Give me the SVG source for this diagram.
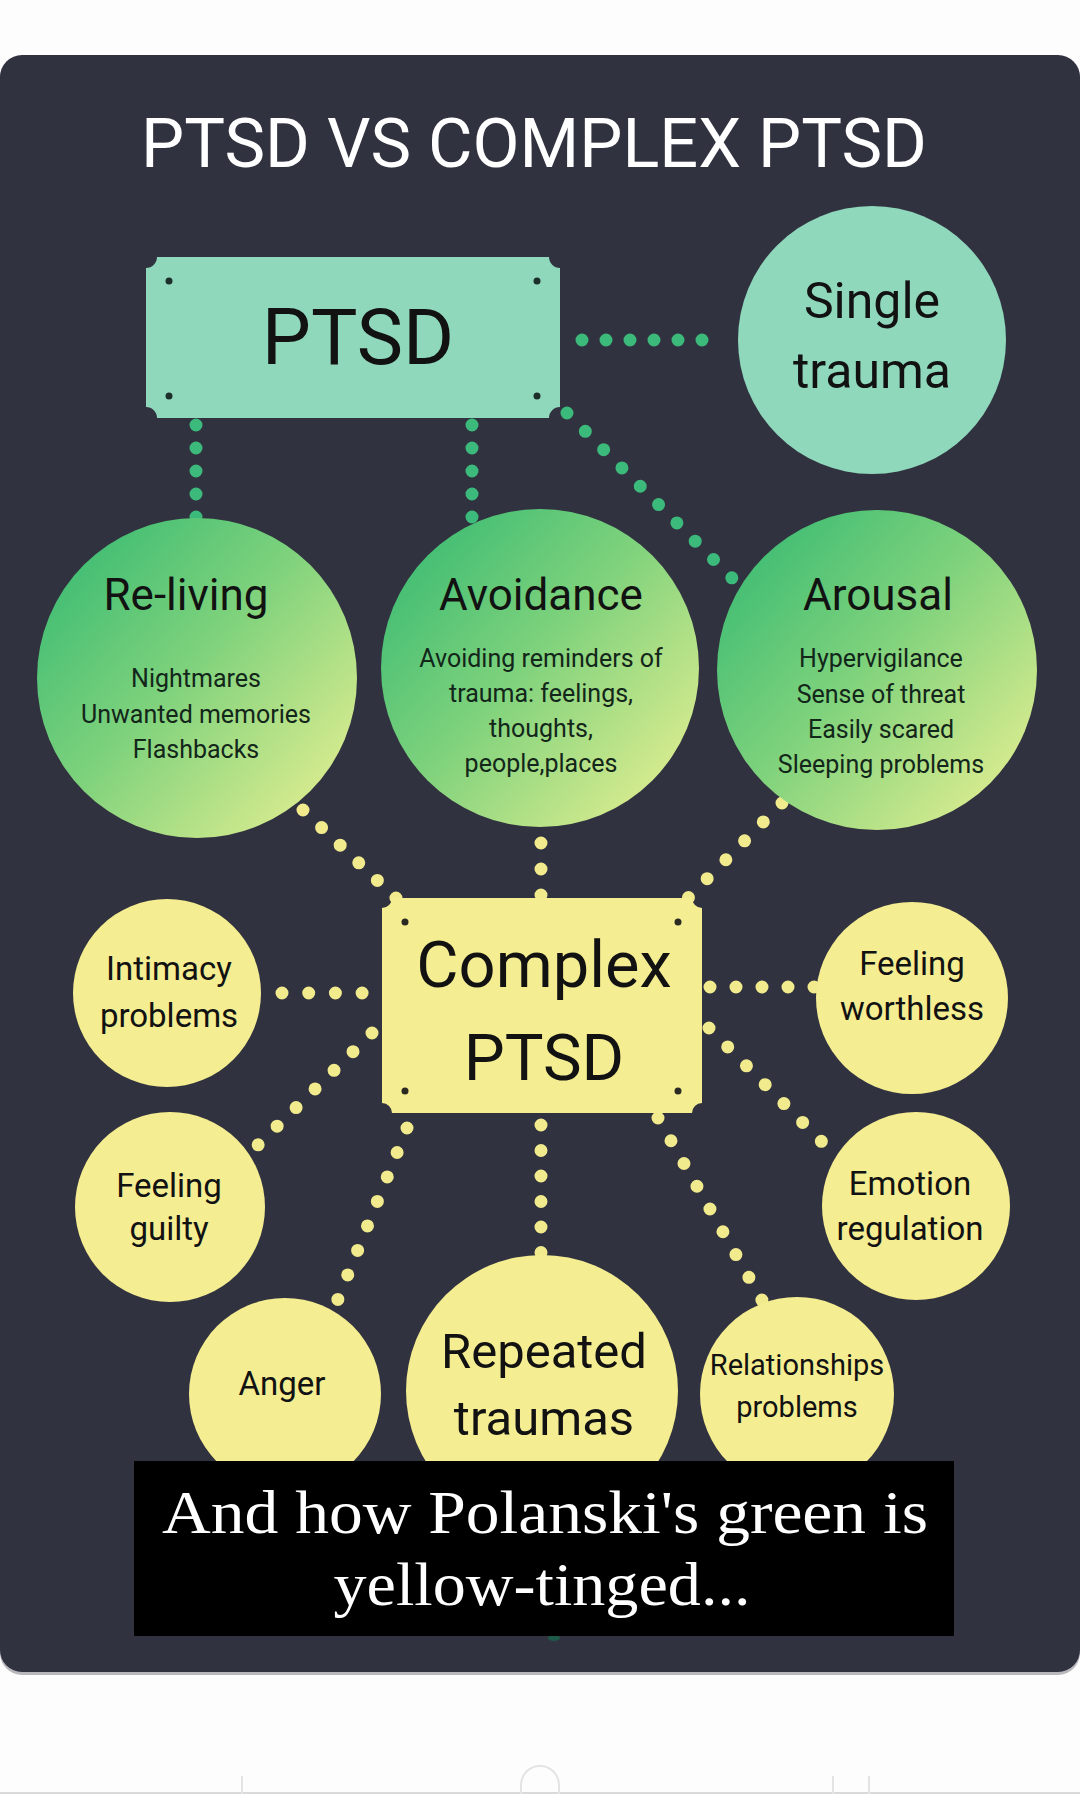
<svg xmlns="http://www.w3.org/2000/svg" width="1080" height="1794" viewBox="0 0 1080 1794">
  <defs>
    <linearGradient id="gGreen" x1="0.08" y1="0.1" x2="0.95" y2="0.9">
      <stop offset="0" stop-color="#3dbc73"/>
      <stop offset="0.45" stop-color="#7ed27c"/>
      <stop offset="1" stop-color="#e2ee91"/>
    </linearGradient>
    <style>
      .lbl { font-family: Roboto, "Liberation Sans", sans-serif; fill: #121212; text-anchor: middle; }
      .small { font-family: Roboto, "Liberation Sans", sans-serif; fill: #13261a; text-anchor: middle; font-size: 25px; }
      .gdot { fill: none; stroke: #3cba7b; stroke-width: 13; stroke-linecap: round; }
      .ydot { fill: none; stroke: #f2eb8d; stroke-width: 13; stroke-linecap: round; }
      .mint { fill: #8fd8bb; }
      .yel { fill: #f4ed91; }
      .green { fill: url(#gGreen); }
      .rivet { fill: #1d2f2a; }
      .rivetY { fill: #2a2a22; }
      .faint { fill: none; stroke: #e4e4e6; stroke-width: 2; }
    </style>
  </defs>

  <!-- page background -->
  <rect x="0" y="0" width="1080" height="1794" fill="#fdfdfd"/>
  <rect x="0" y="57" width="1080" height="1618" rx="22" fill="#8a8b92" opacity="0.6"/>
  <rect x="0" y="55" width="1080" height="1617" rx="22" fill="#31323f"/>

  <!-- bottom UI remnants -->
  <g id="bottom-ui">
    <line x1="0" y1="1793" x2="1080" y2="1793" stroke="#d9d9db" stroke-width="2"/>
    <path class="faint" d="M 521 1794 V 1785 A 19 19 0 0 1 559 1785 V 1794"/>
    <line class="faint" x1="242" y1="1776" x2="242" y2="1794"/>
    <line class="faint" x1="833" y1="1776" x2="833" y2="1794"/>
    <line class="faint" x1="869" y1="1776" x2="869" y2="1794"/>
  </g>

  <g id="title">
    <text x="534" y="167" font-family="Roboto, 'Liberation Sans', sans-serif" font-size="68" fill="#ffffff" text-anchor="middle" textLength="786" lengthAdjust="spacingAndGlyphs">PTSD VS COMPLEX PTSD</text>
  </g>

  <!-- connectors -->
  <g id="connectors">
    <path class="gdot" stroke-dasharray="0 24" d="M 582 340 L 703 340"/>
    <path class="gdot" stroke-dasharray="0 23" d="M 196 425 L 196 521"/>
    <path class="gdot" stroke-dasharray="0 23" d="M 472 425 L 472 526"/>
    <path class="gdot" stroke-dasharray="0 25.9" d="M 567 413 L 741 587"/>

    <path class="ydot" stroke-dasharray="0 25.6" d="M 303 810 L 397 899"/>
    <path class="ydot" stroke-dasharray="0 26" d="M 541 843 L 541 897"/>
    <path class="ydot" stroke-dasharray="0 26.6" d="M 782 803 L 688 898"/>
    <path class="ydot" stroke-dasharray="0 26.7" d="M 282 993 L 364 993"/>
    <path class="ydot" stroke-dasharray="0 26" d="M 710 987 L 815 987"/>
    <path class="ydot" stroke-dasharray="0 26.6" d="M 372 1033 L 257 1146"/>
    <path class="ydot" stroke-dasharray="0 26.6" d="M 709 1028 L 822 1142"/>
    <path class="ydot" stroke-dasharray="0 26.4" d="M 407 1128 L 336 1304"/>
    <path class="ydot" stroke-dasharray="0 25.5" d="M 541 1125 L 541 1254"/>
    <path class="ydot" stroke-dasharray="0 26.2" d="M 658 1118 L 763 1302"/>
  </g>

  <!-- PTSD box -->
  <g id="node-ptsd">
    <path class="mint" d="M 157 257 H 549 A 11 11 0 0 0 560 268 V 407 A 11 11 0 0 0 549 418 H 157 A 11 11 0 0 0 146 407 V 268 A 11 11 0 0 0 157 257 Z"/>
    <circle class="rivet" cx="169" cy="281" r="3.5"/>
    <circle class="rivet" cx="537" cy="281" r="3.5"/>
    <circle class="rivet" cx="169" cy="396" r="3.5"/>
    <circle class="rivet" cx="537" cy="396" r="3.5"/>
    <text class="lbl" x="358" y="364" font-size="78">PTSD</text>
  </g>

  <g id="node-single">
    <circle class="mint" cx="872" cy="340" r="134"/>
    <text class="lbl" x="872" y="318" font-size="50">Single</text>
    <text class="lbl" x="872" y="388" font-size="50">trauma</text>
  </g>

  <g id="node-reliving">
    <circle class="green" cx="197" cy="678" r="160"/>
    <text class="lbl" x="186" y="610" font-size="44">Re-living</text>
    <text class="small" x="196" y="687">Nightmares</text>
    <text class="small" x="196" y="723">Unwanted memories</text>
    <text class="small" x="196" y="758">Flashbacks</text>
  </g>

  <g id="node-avoidance">
    <circle class="green" cx="540" cy="668" r="159"/>
    <text class="lbl" x="541" y="610" font-size="44">Avoidance</text>
    <text class="small" x="541" y="667">Avoiding reminders of</text>
    <text class="small" x="541" y="702">trauma: feelings,</text>
    <text class="small" x="541" y="737">thoughts,</text>
    <text class="small" x="541" y="772">people,places</text>
  </g>

  <g id="node-arousal">
    <circle class="green" cx="877" cy="670" r="160"/>
    <text class="lbl" x="878" y="610" font-size="44">Arousal</text>
    <text class="small" x="881" y="667">Hypervigilance</text>
    <text class="small" x="881" y="703">Sense of threat</text>
    <text class="small" x="881" y="738">Easily scared</text>
    <text class="small" x="881" y="773">Sleeping problems</text>
  </g>

  <!-- Complex PTSD box -->
  <g id="node-complex">
    <path class="yel" d="M 392 898 H 692 A 10 10 0 0 0 702 908 V 1103 A 10 10 0 0 0 692 1113 H 392 A 10 10 0 0 0 382 1103 V 908 A 10 10 0 0 0 392 898 Z"/>
    <circle class="rivetY" cx="405" cy="922" r="3.5"/>
    <circle class="rivetY" cx="678" cy="922" r="3.5"/>
    <circle class="rivetY" cx="405" cy="1091" r="3.5"/>
    <circle class="rivetY" cx="678" cy="1091" r="3.5"/>
    <text class="lbl" x="544" y="987" font-size="65">Complex</text>
    <text class="lbl" x="544" y="1080" font-size="65">PTSD</text>
  </g>

  <g id="node-intimacy">
    <circle class="yel" cx="167" cy="993" r="94"/>
    <text class="lbl" x="169" y="980" font-size="33">Intimacy</text>
    <text class="lbl" x="169" y="1027" font-size="33">problems</text>
  </g>

  <g id="node-worthless">
    <circle class="yel" cx="912" cy="998" r="96"/>
    <text class="lbl" x="912" y="975" font-size="33">Feeling</text>
    <text class="lbl" x="912" y="1020" font-size="33">worthless</text>
  </g>

  <g id="node-guilty">
    <circle class="yel" cx="170" cy="1207" r="95"/>
    <text class="lbl" x="169" y="1197" font-size="33">Feeling</text>
    <text class="lbl" x="169" y="1240" font-size="33">guilty</text>
  </g>

  <g id="node-emotion">
    <circle class="yel" cx="916" cy="1206" r="94"/>
    <text class="lbl" x="910" y="1195" font-size="33">Emotion</text>
    <text class="lbl" x="910" y="1240" font-size="33">regulation</text>
  </g>

  <g id="node-anger">
    <circle class="yel" cx="285" cy="1394" r="96"/>
    <text class="lbl" x="282" y="1395" font-size="33">Anger</text>
  </g>

  <g id="node-repeated">
    <circle class="yel" cx="542" cy="1391" r="136"/>
    <text class="lbl" x="544" y="1368" font-size="49">Repeated</text>
    <text class="lbl" x="544" y="1435" font-size="49">traumas</text>
  </g>

  <g id="node-relationships">
    <circle class="yel" cx="797" cy="1394" r="97"/>
    <text class="lbl" x="797" y="1375" font-size="29">Relationships</text>
    <text class="lbl" x="797" y="1417" font-size="29">problems</text>
  </g>

  <!-- caption overlay -->
  <g id="caption">
    <ellipse cx="554" cy="1638" rx="6" ry="3" fill="#1e5a48"/>
    <rect x="134" y="1461" width="820" height="175" fill="#000000"/>
    <text x="545" y="1533" font-family="'Liberation Serif', serif" font-size="62" fill="#ffffff" text-anchor="middle" textLength="766" lengthAdjust="spacingAndGlyphs">And how Polanski's green is</text>
    <text x="542" y="1605" font-family="'Liberation Serif', serif" font-size="62" fill="#ffffff" text-anchor="middle" textLength="417" lengthAdjust="spacingAndGlyphs">yellow-tinged...</text>
  </g>
</svg>
